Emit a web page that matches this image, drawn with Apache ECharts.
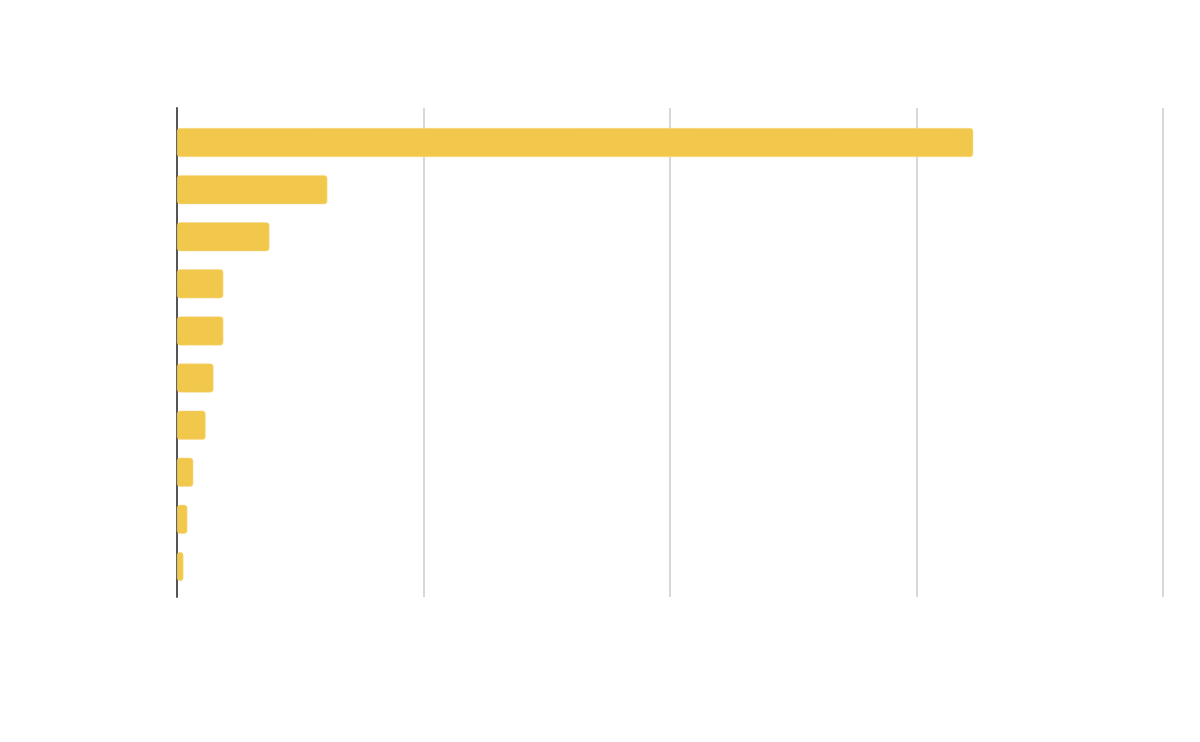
<!DOCTYPE html>
<html>
<head>
<meta charset="utf-8">
<style>
  html, body { margin: 0; padding: 0; background: #fff; }
  #main { width: 1200px; height: 742px; }
</style>
<script src="https://cdn.jsdelivr.net/npm/echarts@6/dist/echarts.min.js"></script>
</head>
<body>
<div id="main"></div>
<script>
// the picture shows no labels, so categories are placeholders
var categories = ["Item 1", "Item 2", "Item 3", "Item 4", "Item 5",
                  "Item 6", "Item 7", "Item 8", "Item 9", "Item 10"];
var values = [323, 61, 37.5, 18.8, 18.8, 14.8, 11.6, 6.6, 4.2, 2.6];
var xTicks = [0, 100, 200, 300, 400];

var chart = echarts.init(document.getElementById("main"));

var option = {
    backgroundColor: "#ffffff",
    animation: false,
    grid: [
        // frame: grid lines and the axis line
        {left: 177, right: 37, top: 108, bottom: 145},
        // bars
        {left: 177, right: 37, top: 119, bottom: 152}
    ],
    xAxis: [
        {
            type: "value", gridIndex: 0,
            min: xTicks[0], max: xTicks[xTicks.length - 1], interval: xTicks[1] - xTicks[0],
            axisLine: {show: false}, axisTick: {show: false}, axisLabel: {show: false},
            splitLine: {show: true, lineStyle: {color: "#d8d8d8", width: 2}}
        },
        {
            type: "value", gridIndex: 1,
            min: xTicks[0], max: xTicks[xTicks.length - 1],
            show: false
        }
    ],
    yAxis: [
        {
            type: "value", gridIndex: 0, min: 0, max: 1,
            axisLine: {show: true, lineStyle: {color: "#555555", width: 2}},
            axisTick: {show: false}, axisLabel: {show: false}, splitLine: {show: false}
        },
        {
            type: "category", gridIndex: 1, inverse: true,
            data: categories, show: false
        }
    ],
    series: [{
        type: "bar",
        xAxisIndex: 1,
        yAxisIndex: 1,
        data: values,
        barWidth: 29,
        itemStyle: {
            color: "#f2c84c",
            borderRadius: 3,
            borderColor: "#f6d98a",
            borderWidth: 0.5
        }
    }]
};

chart.setOption(option);
</script>
</body>
</html>
